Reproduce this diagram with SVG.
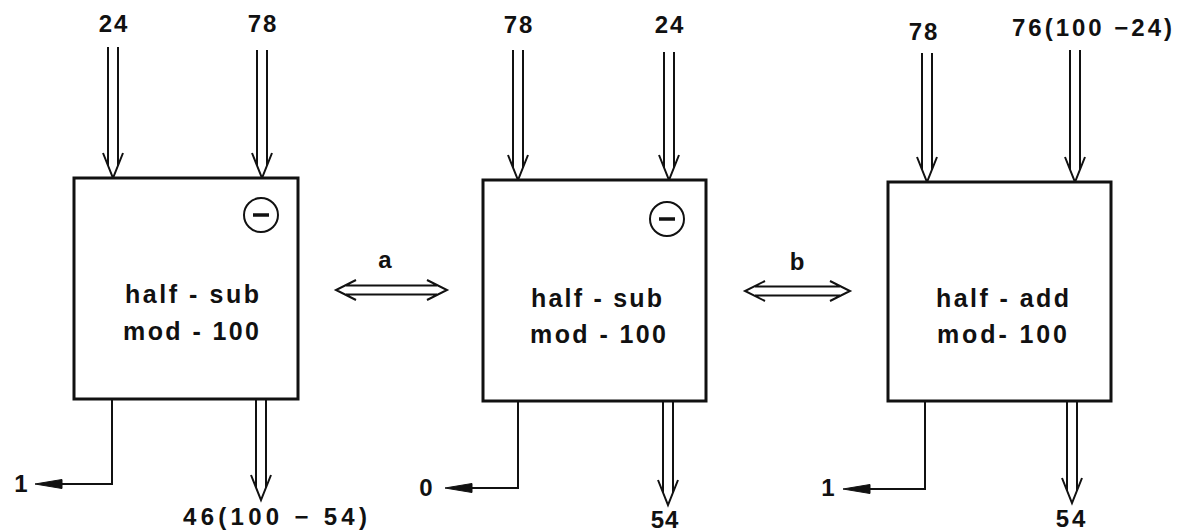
<svg xmlns="http://www.w3.org/2000/svg" width="1178" height="531" viewBox="0 0 1178 531">
<style>
.box{fill:#fff;stroke:#111;stroke-width:3}
.ln{fill:none;stroke:#111;stroke-width:2;stroke-linejoin:miter}
.carry{fill:none;stroke:#111;stroke-width:2}
.head{fill:#111;stroke:#111;stroke-width:1}
.t{font-family:"Liberation Sans",Arial,sans-serif;font-weight:bold;font-size:25px;fill:#111}
.lbl{font-family:"Liberation Sans",Arial,sans-serif;font-weight:bold;font-size:24px;fill:#111}
.circ{fill:#fff;stroke:#111;stroke-width:2}
.minus{stroke:#111;stroke-width:3.5}
</style>
<rect width="1178" height="531" fill="#fff"/>
<g id="connectors">
  <!-- top inputs -->
  <path class="ln" d="M108,47 V166 M118,47 V166 M103,153 L113,178 L123,153"/>
  <path class="ln" d="M257,50 V166 M267,50 V166 M252,153 L262,178 L272,153"/>
  <path class="ln" d="M513,50 V168 M523,50 V168 M508,155 L518,180 L528,155"/>
  <path class="ln" d="M664,52 V168 M674,52 V168 M659,155 L669,180 L679,155"/>
  <path class="ln" d="M922,53 V170 M932,53 V170 M917,157 L927,182 L937,157"/>
  <path class="ln" d="M1070,50 V170 M1080,50 V170 M1065,157 L1075,182 L1085,157"/>
  <!-- bottom outputs -->
  <path class="ln" d="M256,399 V488 M266,399 V488 M251,475 L261,500 L271,475"/>
  <path class="ln" d="M663,401 V493 M673,401 V493 M658,480 L668,505 L678,480"/>
  <path class="ln" d="M1067,401 V491 M1077,401 V491 M1062,478 L1072,503 L1082,478"/>
  <!-- carries -->
  <path class="carry" d="M112,399 V484 H55"/>
  <polygon class="head" points="35,484 62,479.5 62,488.5"/>
  <path class="carry" d="M518,401 V488 H465"/>
  <polygon class="head" points="445,488 472,483.5 472,492.5"/>
  <path class="carry" d="M925,401 V489 H863"/>
  <polygon class="head" points="843,489 870,484.5 870,493.5"/>
  <!-- double arrows a, b -->
  <path class="ln" d="M346,285.5 H437 M346,294.5 H437 M356,280 L336,290 L356,300 M427,280 L447,290 L427,300"/>
  <path class="ln" d="M755,286.5 H840 M755,295.5 H840 M765,281 L745,291 L765,301 M830,281 L850,291 L830,301"/>
</g>
<g id="labels">
  <text class="lbl" x="114" y="32" text-anchor="middle" letter-spacing="2">24</text>
  <text class="lbl" x="263" y="32" text-anchor="middle" letter-spacing="2">78</text>
  <text class="lbl" x="519" y="33" text-anchor="middle" letter-spacing="2">78</text>
  <text class="lbl" x="670" y="33" text-anchor="middle" letter-spacing="2">24</text>
  <text class="lbl" x="924" y="40" text-anchor="middle" letter-spacing="2">78</text>
  <text class="lbl" x="1012" y="36" textLength="160" lengthAdjust="spacing">76(100 −24)</text>
  <text class="lbl" x="385" y="268" text-anchor="middle">a</text>
  <text class="lbl" x="797" y="270" text-anchor="middle">b</text>
  <text class="lbl" x="21" y="492" text-anchor="middle">1</text>
  <text class="lbl" x="426" y="496" text-anchor="middle">0</text>
  <text class="lbl" x="828" y="496" text-anchor="middle">1</text>
  <text class="lbl" x="183" y="525" textLength="184" lengthAdjust="spacing">46(100 − 54)</text>
  <text class="lbl" x="665" y="528" text-anchor="middle" letter-spacing="1">54</text>
  <text class="lbl" x="1072" y="527" text-anchor="middle" letter-spacing="3">54</text>
</g>
<g id="node1">
  <rect class="box" x="74" y="178" width="224" height="221"/>
  <circle class="circ" cx="261" cy="215" r="17"/>
  <line class="minus" x1="253" y1="215" x2="269" y2="215"/>
  <text class="t" x="125" y="303" textLength="134" lengthAdjust="spacing">half - sub</text>
  <text class="t" x="123" y="340" textLength="136" lengthAdjust="spacing">mod - 100</text>
</g>
<g id="node2">
  <rect class="box" x="483" y="180" width="223" height="221"/>
  <circle class="circ" cx="667" cy="219" r="17"/>
  <line class="minus" x1="659" y1="219" x2="675" y2="219"/>
  <text class="t" x="531" y="307" textLength="131" lengthAdjust="spacing">half - sub</text>
  <text class="t" x="530" y="343" textLength="136" lengthAdjust="spacing">mod - 100</text>
</g>
<g id="node3">
  <rect class="box" x="888" y="182" width="223" height="219"/>
  <text class="t" x="936" y="307" textLength="133" lengthAdjust="spacing">half - add</text>
  <text class="t" x="937" y="343" textLength="130" lengthAdjust="spacing">mod- 100</text>
</g>
</svg>
